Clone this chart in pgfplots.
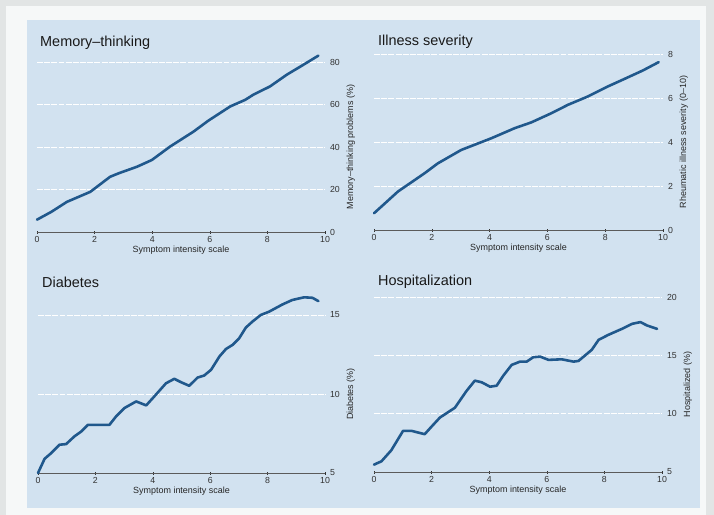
\documentclass[border=0pt]{standalone}
\usepackage{fontspec}
\setmainfont{Liberation Sans}
\usepackage{pgfplots}
\pgfplotsset{compat=1.18}
\definecolor{panel}{RGB}{210,226,240}
\definecolor{outer}{RGB}{246,248,248}
\definecolor{edge}{RGB}{226,229,229}
\definecolor{curve}{RGB}{32,88,140}
\definecolor{tickc}{RGB}{50,50,50}
\pgfplotsset{
 panelstyle/.style={
  scale only axis, clip=false,
  xmin=0,xmax=10, xtick={0,2,...,10},
  axis x line*=bottom, axis y line*=right,
  y axis line style={draw=none},
  x axis line style={draw=tickc!80, line width=0.6pt, -},
  tick align=center, major tick length=3bp,
  xtick style={draw=tickc, line width=0.5pt},
  ytick style={draw=none},
  ymajorgrids, grid style={white, line width=1pt, dash pattern=on 6pt off 1.2pt},
  tick label style={font=\fontsize{8.8}{10}\selectfont, text=tickc},
  /pgf/number format/assume math mode=true,
  label style={font=\fontsize{9}{11}\selectfont, text=black!85},
  xlabel={Symptom intensity scale},
  xlabel style={yshift=3bp},
  xticklabel style={yshift=1bp},
  anchor=south west,
 },
 curvestyle/.style={draw=curve, line width=2.6pt, line join=round, line cap=round, mark=none},
}
\begin{document}
\begin{tikzpicture}
\path[use as bounding box, fill=edge] (0,0) rectangle (714bp,-515bp);
\fill[outer] (6bp,-6bp) rectangle (706bp,-515bp);
\fill[panel] (27bp,-20bp) rectangle (700bp,-508bp);

% Top-left
\begin{axis}[panelstyle, at={(37bp,-232bp)}, width=288bp, height=170bp,
  ymin=0, ymax=80, ytick={0,20,...,80},
  ylabel={Memory–thinking problems (\%)}]
\addplot[curvestyle] coordinates {
(0,5.8) (0.5,9.5) (1.04,14.2) (1.85,18.9) (2.54,26.0) (2.83,27.6) (3.47,30.7)
(3.99,33.9) (4.62,40.2) (5.43,47.2) (5.95,52.4) (6.71,59.1) (7.23,62.2)
(7.51,64.6) (8.09,68.5) (8.67,74.0) (9.2,78.3) (9.77,83.0)};
\end{axis}

% Top-right
\begin{axis}[panelstyle, at={(374bp,-230bp)}, width=289bp, height=176bp,
  ymin=0, ymax=8, ytick={0,2,...,8},
  ylabel={Rheumatic illness severity (0–10)}]
\addplot[curvestyle] coordinates {
(0,0.76) (0.83,1.75) (1.75,2.58) (2.21,3.03) (3.02,3.64) (4.06,4.17)
(4.87,4.63) (5.44,4.89) (6.14,5.31) (6.71,5.69) (7.40,6.07) (8.10,6.53)
(8.67,6.87) (9.3,7.25) (9.85,7.63)};
\end{axis}

% Bottom-left
\begin{axis}[panelstyle, at={(38bp,-473bp)}, width=287bp, height=158bp,
  ymin=5, ymax=15, ytick={5,10,15},
  ylabel={Diabetes (\%)}]
\addplot[curvestyle] coordinates {
(0,5.0) (0.23,5.9) (0.46,6.26) (0.75,6.79) (0.98,6.83) (1.27,7.32) (1.51,7.63)
(1.74,8.05) (2.03,8.05) (2.49,8.05) (2.72,8.58) (3.01,9.11) (3.42,9.53)
(3.77,9.28) (4.0,9.74) (4.46,10.68) (4.75,10.96) (4.98,10.75) (5.27,10.52)
(5.56,11.04) (5.79,11.17) (6.03,11.53) (6.32,12.37) (6.55,12.85) (6.78,13.11)
(7.01,13.53) (7.24,14.2) (7.47,14.58) (7.76,15.0) (8.05,15.21) (8.52,15.67)
(8.86,15.95) (9.27,16.12) (9.56,16.09) (9.77,15.88)};
\end{axis}

% Bottom-right
\begin{axis}[panelstyle, at={(374bp,-472bp)}, width=288bp, height=175bp,
  ymin=5, ymax=20, ytick={5,10,15,20},
  ylabel={Hospitalized (\%)}]
\addplot[curvestyle] coordinates {
(0,5.63) (0.26,5.92) (0.60,6.86) (1.01,8.53) (1.30,8.53) (1.76,8.24) (1.99,8.87)
(2.29,9.67) (2.81,10.51) (3.21,11.94) (3.50,12.83) (3.74,12.69) (4.03,12.31)
(4.26,12.40) (4.49,13.26) (4.78,14.18) (5.07,14.46) (5.30,14.46) (5.53,14.84)
(5.77,14.89) (6.06,14.61) (6.52,14.66) (6.93,14.46) (7.10,14.52) (7.56,15.47)
(7.80,16.33) (8.14,16.76) (8.61,17.27) (8.96,17.70) (9.25,17.85) (9.48,17.56)
(9.83,17.27)};
\end{axis}

\begin{scope}[every node/.style={anchor=base west, font=\fontsize{14.5}{17}\selectfont, text=black!90, inner sep=0pt}]
\node at (40bp,-46bp) {Memory–thinking};
\node at (378bp,-45bp) {Illness severity};
\node at (42bp,-287bp) {Diabetes};
\node at (378bp,-285bp) {Hospitalization};
\end{scope}
\end{tikzpicture}
\end{document}
